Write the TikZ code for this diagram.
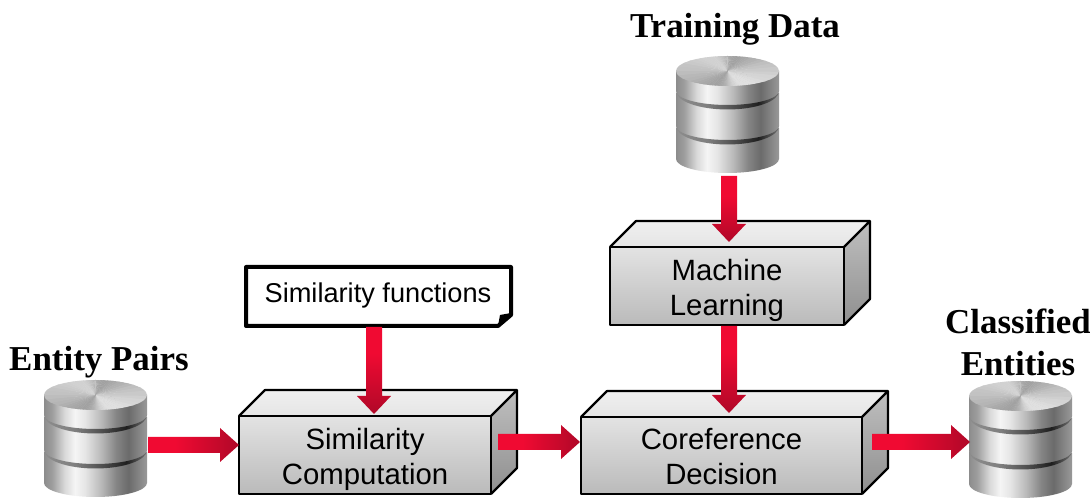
\documentclass[tikz,border=0pt]{standalone}
\usepackage{fontspec}
\setmainfont{Liberation Serif}
\setsansfont{Liberation Sans}
\usetikzlibrary{calc}
\definecolor{redA}{HTML}{F00A32}
\definecolor{redB}{HTML}{B00828}
\pgfdeclarehorizontalshading{metal}{100bp}{
 color(0bp)=(black!45);color(25bp)=(black!45);color(29bp)=(black!38);color(35bp)=(black!15);color(40bp)=(black!4);color(45bp)=(black!10);color(53bp)=(black!28);color(60bp)=(black!48);color(66bp)=(black!58);color(71bp)=(black!48);color(75bp)=(black!40);color(100bp)=(black!40)}
\pgfdeclarehorizontalshading{groove}{100bp}{
 color(0bp)=(black!45);color(25bp)=(black!45);color(40bp)=(black!50);color(55bp)=(black!72);color(65bp)=(black!88);color(75bp)=(black!55);color(100bp)=(black!55)}
\pgfdeclareverticalshading{frontg}{100bp}{color(0bp)=(black!27);color(25bp)=(black!27);color(75bp)=(black!11);color(100bp)=(black!11)}
\pgfdeclareverticalshading{topg}{100bp}{color(0bp)=(black!10);color(25bp)=(black!10);color(75bp)=(black!6);color(100bp)=(black!6)}
\pgfdeclareverticalshading{sideg}{100bp}{color(0bp)=(black!44);color(25bp)=(black!44);color(75bp)=(black!25);color(100bp)=(black!25)}
\pgfdeclarehorizontalshading{redh}{100bp}{color(0bp)=(redA);color(40bp)=(redA);color(75bp)=(redB);color(100bp)=(redB)}
\pgfdeclareverticalshading{redv}{100bp}{color(0bp)=(redB);color(25bp)=(redB);color(60bp)=(redA);color(100bp)=(redA)}
\tikzset{
 x=0.75pt,y=-0.75pt,
 title/.style={font=\bfseries\fontsize{26.2pt}{32.2pt}\selectfont,inner sep=0pt,align=center,text=black},
 boxtext/.style={font=\sffamily\fontsize{22pt}{26.2pt}\selectfont,align=center,inner sep=0pt,text=black},
 boxline/.style={draw=black,line width=1.6pt,line join=round}
}
% database: center x, top y of upper ellipse
\newcommand{\dbicon}[2]{%
 \begin{scope}[shift={(#1,#2)}]
  \foreach \yy/\ee in {72/103,37/70,15/35}{
   \path[shading=metal] (-51.5,\yy) -- (-51.5,\ee) arc[start angle=180,end angle=0,x radius=51.5,y radius=14] -- (51.5,\yy) -- cycle;
  }
  \foreach \ee in {35,70}{
   \path[shading=groove] (-51.5,\ee) arc[start angle=180,end angle=0,x radius=51.5,y radius=14] arc[start angle=0,end angle=180,x radius=51.5,y radius=18.5] -- cycle;
  }
  \begin{scope}
   \clip (0,15) ellipse[x radius=51.5,y radius=15];
   \foreach \a in {0,5,...,355}{
    \pgfmathsetmacro{\gv}{int(26-11*cos(2*(\a-35))-3*cos(\a-35))}
    \fill[black!\gv,shift={(0,15)}] (0,0) -- (\a:70) -- (\a+6:70) -- cycle;
   }
  \end{scope}
 \end{scope}}
% filled connector arrows between named points
\newcommand{\varrow}[2]{%
 \path[shading=redv] ($(#1)+(-8,0)$) -- ($(#2)+(-8,-18)$) -- ($(#2)+(-17,-18)$) -- (#2) -- ($(#2)+(17,-18)$) -- ($(#2)+(8,-18)$) -- ($(#1)+(8,0)$) -- cycle;}
\newcommand{\harrow}[2]{%
 \path[shading=redh] ($(#1)+(0,-8)$) -- ($(#2)+(-19,-8)$) -- ($(#2)+(-19,-17)$) -- (#2) -- ($(#2)+(-19,17)$) -- ($(#2)+(-19,8)$) -- ($(#1)+(0,8)$) -- cycle;}
% 3-D box: name, x1, y1, x2, y2, text
\newcommand{\cuboid}[6]{%
 \path[shading=topg] (#2,#3) -- (#2+26,#3-26) -- (#4+26,#3-26) -- (#4,#3) -- cycle;
 \path[shading=sideg] (#4,#3) -- (#4+26,#3-26) -- (#4+26,#5-26) -- (#4,#5) -- cycle;
 \path[shading=frontg] (#2,#3) rectangle (#4,#5);
 \draw[boxline] (#2,#3) rectangle (#4,#5);
 \draw[boxline] (#2,#3) -- (#2+26,#3-26) -- (#4+26,#3-26) -- (#4+26,#5-26) -- (#4,#5) (#4,#3) -- (#4+26,#3-26);
 \node[boxtext] (#1) at ({(#2+#4)/2},{(#3+#5)/2+4}) {#6};}
\begin{document}
\begin{tikzpicture}
\useasboundingbox (0,0) rectangle (1090,498);
\fill[white] (0,0) rectangle (1090,498);
% databases
\dbicon{727.5}{56}
\dbicon{95.5}{380}
\dbicon{1020.5}{381}
% boxes
\cuboid{sim}{239}{416}{491}{494}{Similarity\\Computation}
\cuboid{coref}{581}{417}{862}{494}{Coreference\\Decision\vphantom{g}}
\cuboid{ml}{610}{247}{844}{325}{Machine\\Learning}
% note
\draw[black,line width=3pt,line join=round,fill=white] (246,267) -- (511,267) -- (511,315) -- (498,326) -- (246,326) -- cycle;
\fill[black] (511,313) -- (498,326) -- (500,315) -- cycle;
\node[boxtext,font=\sffamily\fontsize{20.4pt}{24pt}\selectfont] (simf) at (378,295) {Similarity functions};
% titles
\node[title,anchor=base] (ttrain) at (735,38) {Training Data};
\node[title,anchor=base] (tentity) at (99,371) {Entity Pairs};
\node[title,anchor=base] (tclassed) at (1018,376) {Classified\\Entities};
% anchors for connectors
\coordinate (trainOut) at (729,176);
\coordinate (mlIn) at (729,242);
\coordinate (mlOut) at (729,326);
\coordinate (corefIn) at (729,413);
\coordinate (simfOut) at (374,327);
\coordinate (simIn) at (374,414);
\coordinate (entOut) at (148,445);
\coordinate (simW) at (239,445);
\coordinate (simOut) at (498,442);
\coordinate (corefW) at (580,442);
\coordinate (corefOut) at (872,442);
\coordinate (clsW) at (970,442);
\varrow{trainOut}{mlIn}
\varrow{mlOut}{corefIn}
\varrow{simfOut}{simIn}
\harrow{entOut}{simW}
\harrow{simOut}{corefW}
\harrow{corefOut}{clsW}
\end{tikzpicture}
\end{document}
